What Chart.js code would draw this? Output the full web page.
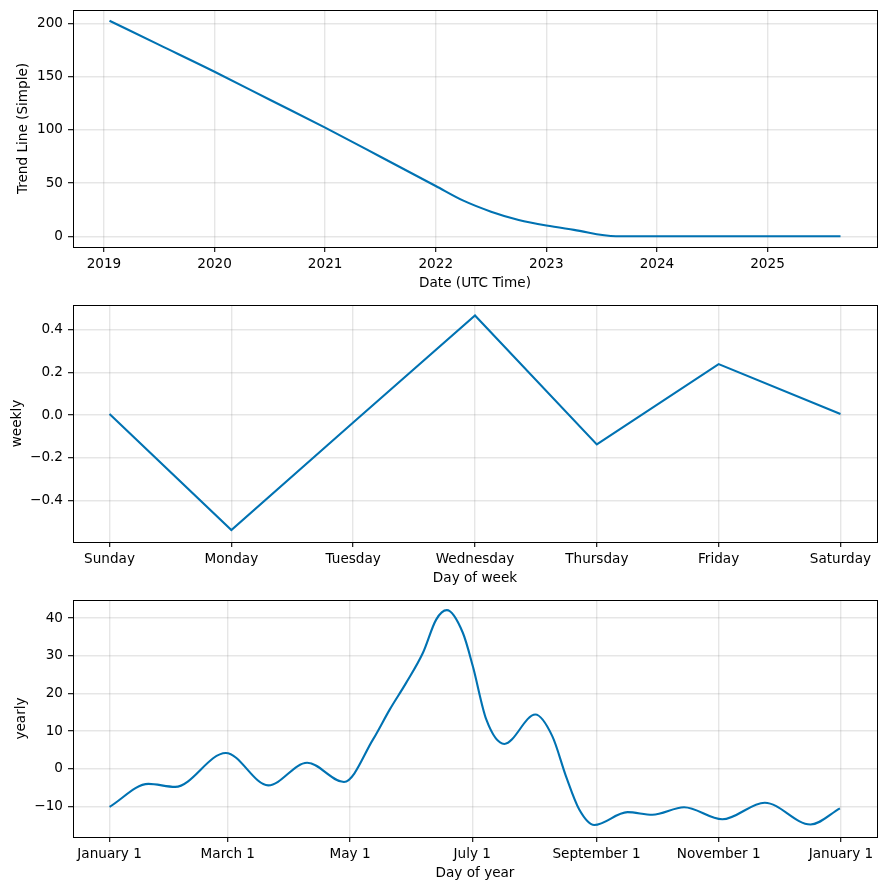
<!DOCTYPE html>
<html><head><meta charset="utf-8">
<script src="https://cdn.jsdelivr.net/npm/chart.js@4"></script>
<style>
html,body{margin:0;padding:0;background:#fff;width:886px;height:890px;overflow:hidden}
canvas{position:absolute;left:0}
</style></head><body>
<canvas id="c1" width="886" height="295" style="top:0px"></canvas>
<canvas id="c2" width="886" height="295" style="top:295px"></canvas>
<canvas id="c3" width="886" height="295" style="top:590px"></canvas>
<script>
// ---- data ----
const trendDates  = [2019.05, 2019.5, 2020.0, 2020.5, 2021.0, 2021.5, 2022.0, 2022.25, 2022.5, 2022.75, 2023.0, 2023.25, 2023.63, 2024.5, 2025.66];
const trendValues = [202.4, 179.7, 154.5, 128.2, 102.0, 74.7, 47.2, 33.4, 23.1, 15.3, 10.0, 6.0, 0, 0, 0];
const trendYearTicks = [2019, 2020, 2021, 2022, 2023, 2024, 2025];
const trendValueTicks = [0, 50, 100, 150, 200];

const weekDays = ['Sunday', 'Monday', 'Tuesday', 'Wednesday', 'Thursday', 'Friday', 'Saturday'];
const weeklyValues = [0.005, -0.537, -0.035, 0.465, -0.137, 0.238, 0.005];
const weeklyValueTicks = [-0.4, -0.2, 0.0, 0.2, 0.4];

const yearlyDays   = [0, 19.4, 32.7, 58, 79.2, 98.6, 117, 131.5, 139.8, 148, 156.4, 163, 168.3, 176.3, 181.3, 188, 197, 212.5, 221, 227.8, 234.4, 241.9, 258.5, 270.9, 286.7, 305.8, 327, 349.8, 364.5];
const yearlyValues = [-10.1, -4.0, -4.8, 4.2, -4.4, 1.6, -3.5, 7.8, 15.7, 22.8, 30.8, 39.6, 42.1, 36.1, 27.2, 13.1, 6.6, 14.4, 8.6, -2.0, -10.8, -14.9, -11.5, -12.2, -10.2, -13.4, -9.0, -14.8, -10.5];
const yearlyTickDays = [0, 59, 120, 181, 243, 304, 365];
const yearlyTickLabels = ['January 1', 'March 1', 'May 1', 'July 1', 'September 1', 'November 1', 'January 1'];
const yearlyValueTicks = [-10, 0, 10, 20, 30, 40];

// ---- style ----
const FONT = {family: "'DejaVu Sans', sans-serif", size: 13.6};
Chart.defaults.font = FONT;
Chart.defaults.color = '#000';
const LINE = '#0072B2';
const GRID = {color: 'rgba(128,128,128,0.2)', lineWidth: 1.4, tickLength: 5, tickColor: '#000', tickWidth: 1.1, drawTicks: true};
const minus = s => String(s).replace('-', '\u2212');

const frame = {id: 'frame', afterDraw(chart) {
  const {ctx, chartArea: a} = chart;
  ctx.save(); ctx.strokeStyle = '#000'; ctx.lineWidth = 1;
  const l = Math.round(a.left) + 0.5, t = Math.round(a.top) + 0.5;
  ctx.strokeRect(l, t, Math.round(a.right) - Math.round(a.left), Math.round(a.bottom) - Math.round(a.top));
  ctx.restore();
}};

function noPad(s) { s.paddingTop = 0; s.paddingBottom = 0; s.paddingLeft = 0; s.paddingRight = 0; }

function xAxis(min, max, ticks, labelFn, title) {
  return {
    type: 'linear', min, max, bounds: 'data',
    afterBuildTicks: s => { s.ticks = ticks.map(v => ({value: v})); },
    afterFit: s => { s.height = 48; noPad(s); },
    ticks: {callback: (v, i) => labelFn(v, i), autoSkip: false, maxRotation: 0, padding: 4},
    grid: GRID, border: {display: false},
    title: {display: true, text: title, padding: {top: 0, bottom: 3}, font: FONT}
  };
}
function yAxis(min, max, ticks, labelFn, title, tpad) {
  return {
    type: 'linear', min, max, bounds: 'data',
    afterBuildTicks: s => { s.ticks = ticks.map(v => ({value: v})); },
    afterFit: s => { s.width = 73; noPad(s); },
    ticks: {callback: (v, i) => labelFn(v, i), autoSkip: false, padding: 5},
    grid: GRID, border: {display: false},
    title: {display: true, text: title, padding: {top: tpad, bottom: 0}, font: FONT}
  };
}
function make(id, xs, ys, xScale, yScale, mode) {
  return new Chart(document.getElementById(id), {
    type: 'line',
    data: {datasets: [{
      data: xs.map((x, i) => ({x, y: ys[i]})),
      borderColor: LINE, borderWidth: 2.1, pointRadius: 0, fill: false,
      cubicInterpolationMode: mode === 'monotone' ? 'monotone' : 'default',
      tension: 0
    }]},
    options: {
      responsive: false, animation: false, devicePixelRatio: 1,
      layout: {padding: {left: 0, right: 9, top: 10, bottom: 0}},
      plugins: {legend: {display: false}, tooltip: {enabled: false}},
      scales: {x: xScale, y: yScale}
    },
    plugins: [frame]
  });
}

make('c1', trendDates, trendValues,
  xAxis(2018.72, 2025.99, trendYearTicks, v => String(v), 'Date (UTC Time)'),
  yAxis(-10.12, 212.5, trendValueTicks, v => String(v), 'Trend Line (Simple)', 15), 'monotone');

make('c2', weekDays.map((d, i) => i), weeklyValues,
  xAxis(-0.3, 6.3, weekDays.map((d, i) => i), (v, i) => weekDays[i], 'Day of week'),
  yAxis(-0.593, 0.514, weeklyValueTicks, v => minus(v.toFixed(1)), 'weekly', 9), 'straight');

make('c3', yearlyDays, yearlyValues,
  xAxis(-18.25, 383.0, yearlyTickDays, (v, i) => yearlyTickLabels[i], 'Day of year'),
  yAxis(-18.1, 44.8, yearlyValueTicks, v => minus(v), 'yearly', 13), 'monotone');
</script>
</body></html>
